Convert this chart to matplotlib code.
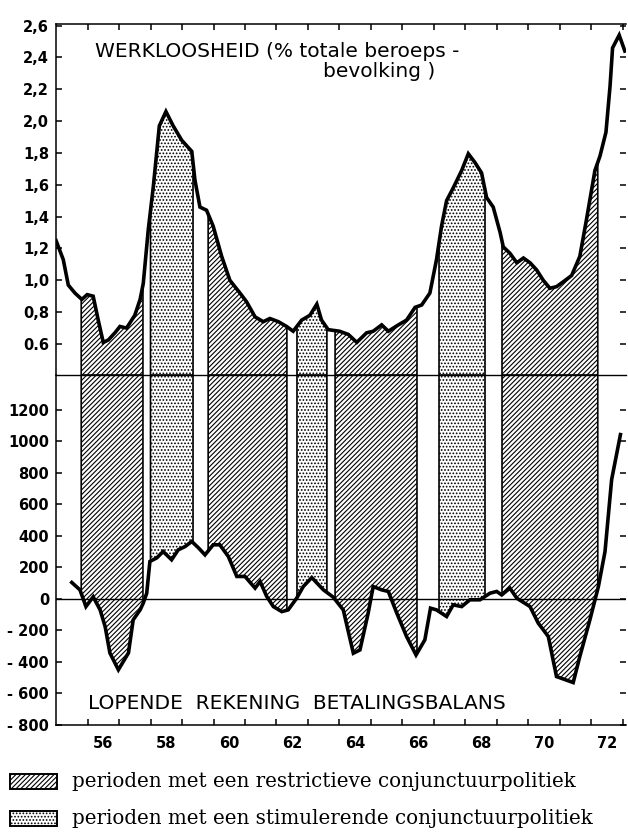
import numpy as np
import matplotlib
matplotlib.use("Agg")
import matplotlib.pyplot as plt
from matplotlib.patches import Rectangle

# werkloosheid (% totale beroepsbevolking)
jaar_w = [1955.0, 1955.23, 1955.39, 1955.6, 1955.82, 1955.99, 1956.18, 1956.34, 1956.5, 1956.66,
          1956.87, 1957.03, 1957.24, 1957.5, 1957.67, 1957.77, 1957.93, 1958.09, 1958.28, 1958.49,
          1958.72, 1958.99, 1959.31, 1959.41, 1959.57, 1959.78, 1959.99, 1960.26, 1960.52, 1960.84,
          1961.05, 1961.32, 1961.58, 1961.79, 1962.06, 1962.32, 1962.53, 1962.8, 1963.06, 1963.28,
          1963.43, 1963.64, 1964.0, 1964.28, 1964.55, 1964.86, 1965.07, 1965.34, 1965.55, 1965.87,
          1966.13, 1966.4, 1966.61, 1966.87, 1967.08, 1967.24, 1967.4, 1967.61, 1967.88, 1968.09,
          1968.3, 1968.51, 1968.67, 1968.88, 1969.1, 1969.2, 1969.41, 1969.63, 1969.84, 1970.05,
          1970.26, 1970.47, 1970.68, 1970.89, 1971.1, 1971.37, 1971.63, 1971.84, 1972.11, 1972.27,
          1972.46, 1972.59, 1972.67, 1972.88, 1973.06]
werkloos = [1.25, 1.13, 0.97, 0.92, 0.88, 0.91, 0.90, 0.75, 0.61, 0.625,
            0.67, 0.71, 0.70, 0.78, 0.88, 0.98, 1.32, 1.59, 1.97, 2.06,
            1.97, 1.88, 1.81, 1.63, 1.46, 1.44, 1.34, 1.15, 1.0, 0.92,
            0.865, 0.77, 0.74, 0.76, 0.74, 0.71, 0.68, 0.75, 0.78, 0.85,
            0.75, 0.69, 0.68, 0.66, 0.61, 0.67, 0.68, 0.72, 0.68, 0.72,
            0.75, 0.83, 0.845, 0.92, 1.13, 1.34, 1.50, 1.58, 1.69, 1.795,
            1.74, 1.675, 1.52, 1.46, 1.30, 1.21, 1.17, 1.11, 1.14, 1.11,
            1.065, 1.0, 0.95, 0.96, 0.99, 1.03, 1.15, 1.38, 1.69, 1.78,
            1.93, 2.22, 2.46, 2.54, 2.44]

# lopende rekening betalingsbalans
jaar_b = [1955.5, 1955.76, 1955.95, 1956.18, 1956.4, 1956.56, 1956.71, 1956.98, 1957.3, 1957.45,
          1957.67, 1957.77, 1957.88, 1957.98, 1958.2, 1958.4, 1958.67, 1958.88, 1959.1, 1959.31,
          1959.52, 1959.73, 1959.99, 1960.2, 1960.47, 1960.74, 1961.0, 1961.32, 1961.48, 1961.69,
          1961.9, 1962.17, 1962.37, 1962.64, 1962.85, 1963.12, 1963.49, 1963.8, 1964.12, 1964.44,
          1964.65, 1964.91, 1965.07, 1965.34, 1965.55, 1965.82, 1966.13, 1966.43, 1966.71, 1966.89,
          1967.08, 1967.4, 1967.61, 1967.88, 1968.14, 1968.46, 1968.78, 1968.99, 1969.15, 1969.41,
          1969.63, 1970.05, 1970.31, 1970.63, 1970.89, 1971.42, 1971.63, 1971.95, 1972.22, 1972.43,
          1972.64, 1972.92]
saldo = [104, 57, -49, 13, -70, -176, -343, -450, -343, -133,
         -70, -27, 36, 237, 260, 300, 248, 311, 332, 364,
         324, 279, 343, 343, 269, 142, 142, 68, 110, 15,
         -49, -81, -70, 4, 78, 135, 57, 11, -70, -345,
         -324, -91, 78, 57, 47, -91, -239, -356, -260, -59,
         -70, -112, -38, -49, -6, -6, 36, 47, 25, 68,
         4, -49, -154, -239, -493, -531, -366, -133, 78, 300,
         756, 1042]

# beleidsperioden
restrictief = [(1955.8, 1957.76), (1959.83, 1962.33), (1963.86, 1966.46), (1969.16, 1972.2)]
stimulerend = [(1958.0, 1959.35), (1962.65, 1963.6), (1967.16, 1968.62)]

w_ticks = [0.6, 0.8, 1.0, 1.2, 1.4, 1.6, 1.8, 2.0, 2.2, 2.4, 2.6]
w_labels = ["0.6", "0,8", "1,0", "1,2", "1,4", "1,6", "1,8", "2,0", "2,2", "2,4", "2,6"]
b_ticks = [-800, -600, -400, -200, 0, 200, 400, 600, 800, 1000, 1200]
b_labels = ["- 800", "- 600", "- 400", "- 200", "0", "200", "400", "600", "800", "1000", "1200"]
jaar_labels = ["56", "58", "60", "62", "64", "66", "68", "70", "72"]

plt.rcParams['hatch.linewidth'] = 0.8
plt.rcParams['font.family'] = ['DejaVu Sans']

HATCH_R = '///////'
HATCH_S = '.....'

fig = plt.figure(figsize=(6.28, 8.33), dpi=100)
ax1 = fig.add_axes([0.0892, 0.5498, 0.9078, 0.4214])
ax2 = fig.add_axes([0.0892, 0.1297, 0.9078, 0.4201], sharex=ax1)

W_MIN, W_MAX = 0.405, 2.61
B_MIN, B_MAX = -800, 1420


def band(ax, x, y, a, b, basis, hatch):
    x = np.asarray(x)
    y = np.asarray(y)
    binnen = (x > a) & (x < b)
    xs = np.concatenate([[a], x[binnen], [b]])
    ys = np.interp(xs, x, y)
    ax.fill_between(xs, ys, basis, facecolor='white', edgecolor='black',
                    hatch=hatch, linewidth=1.2, zorder=2)


for a, b in restrictief:
    band(ax1, jaar_w, werkloos, a, b, W_MIN, HATCH_R)
    band(ax2, jaar_b, saldo, a, b, B_MAX, HATCH_R)
for a, b in stimulerend:
    band(ax1, jaar_w, werkloos, a, b, W_MIN, HATCH_S)
    band(ax2, jaar_b, saldo, a, b, B_MAX, HATCH_S)

ax1.plot(jaar_w, werkloos, color='black', linewidth=2.6, zorder=4,
         solid_joinstyle='miter')
ax2.plot(jaar_b, saldo, color='black', linewidth=2.6, zorder=4,
         solid_joinstyle='miter')
ax2.axhline(0, color='black', linewidth=1.0, zorder=3)

ax1.set_ylim(W_MIN, W_MAX)
ax2.set_ylim(B_MIN, B_MAX)
ax1.set_xlim(1955.0, 1973.1)

# spines
for ax in (ax1, ax2):
    ax.spines['right'].set_visible(False)
    for s in ax.spines.values():
        s.set_linewidth(1.1)
ax1.spines['bottom'].set_visible(False)
ax2.spines['top'].set_linewidth(1.0)

ax1.set_yticks(w_ticks)
ax1.set_yticklabels(w_labels)
ax2.set_yticks(b_ticks)
ax2.set_yticklabels(b_labels)
for ax in (ax1, ax2):
    ax.tick_params(axis='y', direction='in', length=4, width=1.1, left=True, right=True,
                   labelsize=10.5, pad=5)
    for t in ax.get_yticklabels():
        t.set_fontweight('bold')

# x-as: jaarstreepjes, labels midden in het jaar
jaren = np.arange(1956, 1974)
ax2.set_xticks(jaren)
ax2.set_xticks([int(j) + 1900 + 0.5 for j in jaar_labels], minor=True)
ax2.set_xticklabels([], minor=False)
ax2.set_xticklabels(jaar_labels, minor=True)
ax2.tick_params(axis='x', which='major', direction='in', length=4, width=1.1,
                top=False, bottom=True, labelbottom=False)
ax2.tick_params(axis='x', which='minor', length=0, labelsize=10.5, pad=8)
for t in ax2.get_xticklabels(minor=True):
    t.set_fontweight('bold')
ax1.tick_params(axis='x', which='major', direction='in', length=4, width=1.1,
                top=True, bottom=False, labelbottom=False)
ax1.tick_params(axis='x', which='minor', length=0, labelbottom=False)

# titels
fig.text(0.151, 0.9376, "WERKLOOSHEID (% totale beroeps -", fontsize=14.5,
         va='center', ha='left')
fig.text(0.514, 0.9136, "bevolking )", fontsize=14.5, va='center', ha='left')
fig.text(0.140, 0.156, "LOPENDE  REKENING  BETALINGSBALANS", fontsize=14.5,
         va='center', ha='left')

# legenda
leg = [(HATCH_R, "perioden met een restrictieve conjunctuurpolitiek", 0.053),
       (HATCH_S, "perioden met een stimulerende conjunctuurpolitiek", 0.0084)]
for hatch, tekst, y0 in leg:
    fig.add_artist(Rectangle((0.016, y0), 0.075, 0.0175, transform=fig.transFigure,
                             facecolor='white', edgecolor='black', hatch=hatch,
                             linewidth=1.4))
    fig.text(0.115, y0 + 0.009, tekst, fontsize=14.3, family='DejaVu Serif',
             va='center', ha='left')

fig.savefig("out.png", dpi=100)
